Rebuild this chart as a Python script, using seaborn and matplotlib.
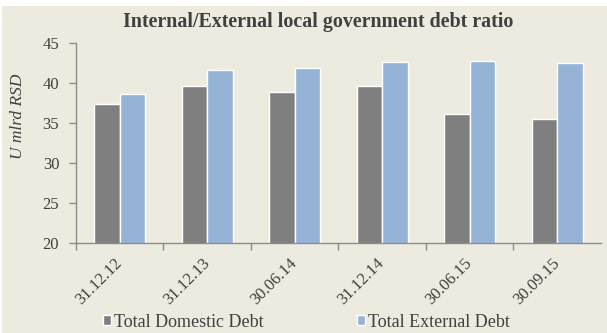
import numpy as np
import matplotlib.pyplot as plt
import seaborn as sns
import pandas as pd
from matplotlib.patches import Rectangle

dates = ['31.12.12', '31.12.13', '30.06.14', '31.12.14', '30.06.15', '30.09.15']
domestic = [37.3, 39.65, 38.8, 39.65, 36.1, 35.45]
external = [38.55, 41.6, 41.8, 42.55, 42.75, 42.45]
series = ['Total Domestic Debt', 'Total External Debt']

df = pd.DataFrame({
    'date': dates * 2,
    'value': domestic + external,
    'series': [series[0]] * len(dates) + [series[1]] * len(dates),
})

sns.set_style('white')
plt.rcParams['font.family'] = ['Liberation Serif', 'DejaVu Serif']

bg = '#EDEADF'
txt = '#404040'
spine = '#8C8C8C'

fig = plt.figure(figsize=(6.07, 3.33), dpi=100, facecolor='white')
# beige panel (small white strip at top/left as in the original)
fig.patches.append(Rectangle((2 / 607, 0), 1, 1 - 6 / 333, transform=fig.transFigure,
                             facecolor=bg, edgecolor='none', zorder=-10))
ax = fig.add_axes([0.125, 0.27, 0.865, 0.602])
ax.set_facecolor(bg)

sns.barplot(data=df, x='date', y='value', hue='series', order=dates,
            palette={series[0]: '#7F7F7F', series[1]: '#95B3D7'},
            width=0.58, saturation=1, ax=ax)

ax.set_ylim(20, 45)
ax.set_yticks(np.arange(20, 46, 5))
ax.set_xlim(-0.5, len(dates) - 0.5)

# category boundary ticks on x axis
ax.set_xticks(np.arange(-0.5, len(dates) - 0.5, 1), minor=True)
ax.tick_params(axis='x', which='minor', length=5, width=1, color=spine, direction='out', bottom=True)
ax.tick_params(axis='x', which='major', length=0, labelsize=12, labelcolor=txt, pad=13)
ax.tick_params(axis='y', length=5, width=1, color=spine, direction='out', left=True,
               labelsize=12, labelcolor=txt, pad=7)
plt.setp(ax.get_xticklabels(), rotation=45, ha='right', va='center', rotation_mode='anchor')

for s in ['top', 'right']:
    ax.spines[s].set_visible(False)
for s in ['left', 'bottom']:
    ax.spines[s].set_color(spine)
    ax.spines[s].set_linewidth(1)

ax.set_xlabel('')
ax.set_ylabel('U mlrd RSD', fontsize=12.5, fontstyle='italic', color=txt, ha='center', va='center')
ax.yaxis.set_label_coords(-0.111, 0.63)
fig.text(0.525, 0.934, 'Internal/External local government debt ratio', ha='center', va='center',
         fontsize=14.4, fontweight='bold', color=txt)

handles, labels = ax.get_legend_handles_labels()
ax.legend(handles, labels, loc='center', bbox_to_anchor=(0.505, 0.033), bbox_transform=fig.transFigure,
          ncol=2, frameon=False, handlelength=0.45, handleheight=0.45, handletextpad=0.15,
          columnspacing=5.2, prop={'size': 13}, labelcolor=txt)

fig.savefig('out.png', dpi=100, facecolor=fig.get_facecolor())
